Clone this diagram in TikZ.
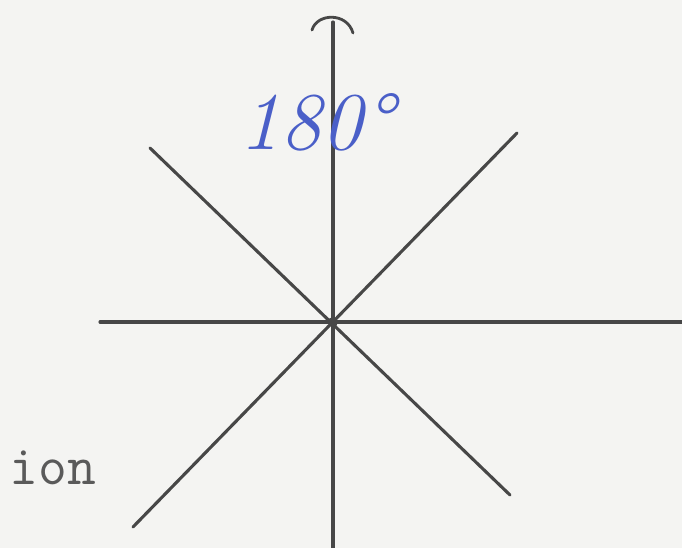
\documentclass[tikz,border=0pt]{standalone}
\usepackage{fontspec}
\definecolor{rayInk}{HTML}{474747}
\definecolor{rayPen}{HTML}{4A5FC8}
\definecolor{rayPaper}{HTML}{F4F4F2}
\tikzset{
  ray line/.style={draw=rayInk, line width=3.1pt, line cap=round},
  ray hub/.style={circle, fill=rayInk, minimum size=10pt, inner sep=0pt},
  ray note/.style={font=\itshape\fontsize{82}{90}\selectfont, text=rayPen},
  ray word/.style={font=\ttfamily\fontsize{56}{60}\selectfont, text=rayInk!90},
}
\begin{document}
\begin{tikzpicture}[x=1pt,y=-1pt]
  \fill[rayPaper] (0,0) rectangle (682,548);
  \useasboundingbox (0,0) rectangle (682,548);
  % Ends of the four lines
  \coordinate (north) at (333,22);
  \coordinate (south) at (333,560);
  \coordinate (west) at (100,322);
  \coordinate (east) at (690,322);
  \coordinate (nw) at (150,148);
  \coordinate (ne) at (517,133);
  \coordinate (sw) at (133,527);
  \coordinate (se) at (510,495);
  \foreach \a/\b in {north/south, west/east, nw/se, ne/sw}
    \draw[ray line] (\a) -- (\b);
  \node[ray hub] (hub) at (333,322) {};
  % Hooked tip on top
  \draw[ray line, line width=2.8pt] (312,30) .. controls (317,13) and (347,12) .. (353,33);
  \node[ray note, anchor=base west] (angle) at (236,150) {180°};
  \node[ray word, anchor=base west] (word) at (6,484) {ion};
\end{tikzpicture}
\end{document}
